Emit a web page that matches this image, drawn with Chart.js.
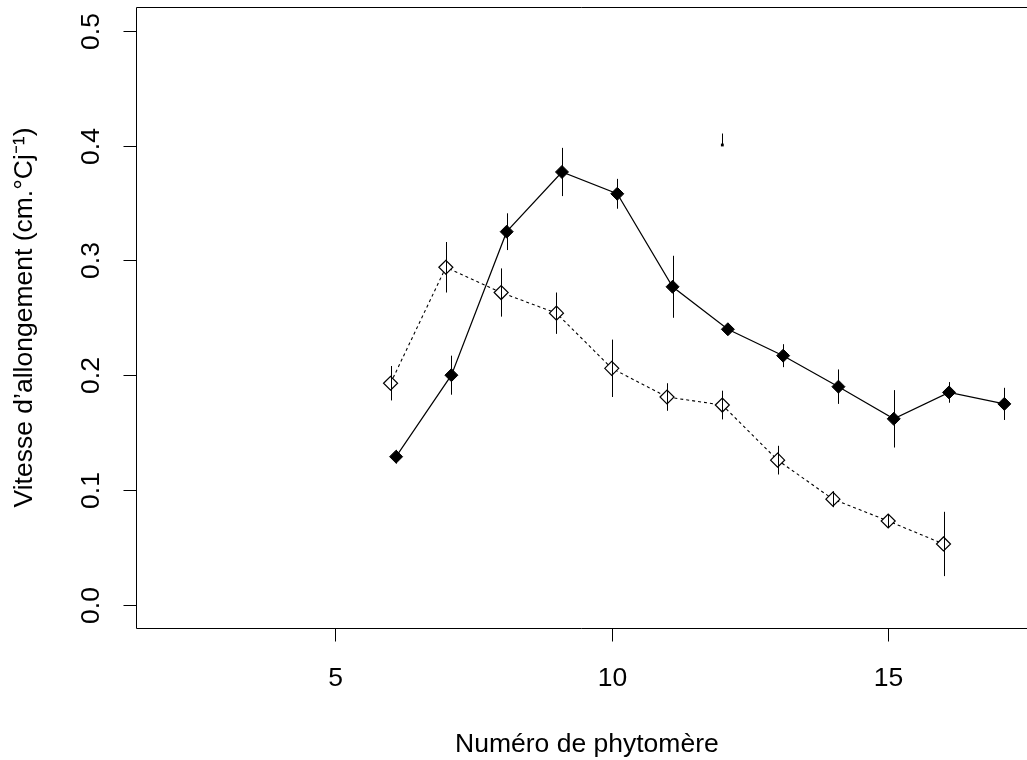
<!DOCTYPE html>
<html>
<head>
<meta charset="utf-8">
<script src="https://cdn.jsdelivr.net/npm/chart.js@4.4.1/dist/chart.umd.min.js"></script>
<style>
  html, body { margin: 0; padding: 0; background: #fff; overflow: hidden; }
  #graphique { display: block; }
</style>
</head>
<body>
<canvas id="graphique" width="1027" height="760"></canvas>
<script>
// Données
const phytoPlein = [6.1, 7.1, 8.1, 9.1, 10.1, 11.1, 12.1, 13.1, 14.1, 15.1, 16.1, 17.1];
const vitessePlein = [0.129, 0.200, 0.325, 0.377, 0.358, 0.277, 0.240, 0.217, 0.190, 0.162, 0.185, 0.175];
const erreurPlein = [0.006, 0.017, 0.016, 0.021, 0.013, 0.027, 0.005, 0.010, 0.015, 0.025, 0.009, 0.014];

const phytoVide = [6, 7, 8, 9, 10, 11, 12, 13, 14, 15, 16];
const vitesseVide = [0.193, 0.294, 0.272, 0.254, 0.206, 0.181, 0.174, 0.126, 0.092, 0.073, 0.053];
const erreurVide = [0.015, 0.022, 0.021, 0.018, 0.025, 0.012, 0.0125, 0.0125, 0.007, 0.006, 0.028];

// petit trait isolé vers x = 12
const phytoIsole = [12];
const basIsole = [0.4005];
const hautIsole = [0.4105];

const ticksX = [5, 10, 15];
const ticksY = [0.0, 0.1, 0.2, 0.3, 0.4, 0.5];

const titreX = "Numéro de phytomère";
const titreY = "Vitesse d’allongement (cm.°Cj\u207B\u00B9)";

const police = "26.5px 'Liberation Sans', Arial, sans-serif";

function points(xs, ys) {
    return xs.map(function (v, i) { return {x: v, y: ys[i]}; });
}

// Axes façon R + barres d'erreur
const axesR = {
    id: 'axesR',
    afterDatasetsDraw(chart) {
        const ctx = chart.ctx;
        const a = chart.chartArea;
        const sx = chart.scales.x;
        const sy = chart.scales.y;
        const W = chart.width;
        ctx.save();
        ctx.strokeStyle = '#000';
        ctx.fillStyle = '#000';
        ctx.lineWidth = 1;

        function barre(xv, lo, hi) {
            const px = Math.round(sx.getPixelForValue(xv)) + 0.5;
            ctx.beginPath();
            ctx.moveTo(px, sy.getPixelForValue(lo));
            ctx.lineTo(px, sy.getPixelForValue(hi));
            ctx.stroke();
        }
        phytoPlein.forEach(function (v, i) { barre(v, vitessePlein[i] - erreurPlein[i], vitessePlein[i] + erreurPlein[i]); });
        phytoVide.forEach(function (v, i) { barre(v, vitesseVide[i] - erreurVide[i], vitesseVide[i] + erreurVide[i]); });
        phytoIsole.forEach(function (v, i) { barre(v, basIsole[i], hautIsole[i]); });

        // cadre : le côté droit tombe hors de l'image
        const l = Math.round(a.left) + 0.5, t = Math.round(a.top) + 0.5, b = Math.round(a.bottom) + 0.5;
        ctx.beginPath();
        ctx.moveTo(W, t);
        ctx.lineTo(l, t);
        ctx.lineTo(l, b);
        ctx.lineTo(W, b);
        ctx.stroke();

        ctx.font = police;
        ctx.textAlign = 'center';
        ctx.textBaseline = 'alphabetic';

        ticksX.forEach(function (v) {
            const px = Math.round(sx.getPixelForValue(v)) + 0.5;
            ctx.beginPath();
            ctx.moveTo(px, b);
            ctx.lineTo(px, b + 13);
            ctx.stroke();
            ctx.fillText(String(v), px, a.bottom + 58);
        });

        ticksY.forEach(function (v) {
            const py = Math.round(sy.getPixelForValue(v)) + 0.5;
            ctx.beginPath();
            ctx.moveTo(l - 13, py);
            ctx.lineTo(l, py);
            ctx.stroke();
            ctx.save();
            ctx.translate(a.left - 37, py);
            ctx.rotate(-Math.PI / 2);
            ctx.fillText(v.toFixed(1), 0, 0);
            ctx.restore();
        });

        ctx.fillText(titreX, sx.getPixelForValue(9.55), a.bottom + 124);

        ctx.save();
        ctx.translate(32, (a.top + a.bottom) / 2);
        ctx.rotate(-Math.PI / 2);
        ctx.fillText(titreY, 0, 0);
        ctx.restore();

        ctx.restore();
    }
};

new Chart(document.getElementById('graphique'), {
    type: 'line',
    data: {
        datasets: [{
            data: points(phytoPlein, vitessePlein),
            borderColor: '#000',
            borderWidth: 1.2,
            pointStyle: 'rectRot',
            pointRadius: 6.5,
            pointBackgroundColor: '#000',
            pointBorderColor: '#000',
            pointBorderWidth: 1,
            tension: 0
        }, {
            data: points(phytoVide, vitesseVide),
            borderColor: '#000',
            borderWidth: 1.1,
            borderDash: [3, 3],
            pointStyle: 'rectRot',
            pointRadius: 7,
            pointBackgroundColor: '#fff',
            pointBorderColor: '#000',
            pointBorderWidth: 1.2,
            tension: 0
        }, {
            data: points(phytoIsole, basIsole),
            showLine: false,
            pointStyle: 'rect',
            pointRadius: 2,
            pointBackgroundColor: '#000',
            pointBorderColor: '#000',
            pointBorderWidth: 0
        }]
    },
    options: {
        responsive: false,
        devicePixelRatio: 1,
        animation: false,
        layout: { autoPadding: false, padding: { left: 136, top: 7, right: 0, bottom: 132 } },
        plugins: { legend: { display: false }, tooltip: { enabled: false } },
        scales: {
            x: { type: 'linear', min: 1.396, max: 17.51, display: false },
            y: { type: 'linear', min: -0.0202, max: 0.5207, display: false }
        }
    },
    plugins: [axesR]
});
</script>
</body>
</html>
